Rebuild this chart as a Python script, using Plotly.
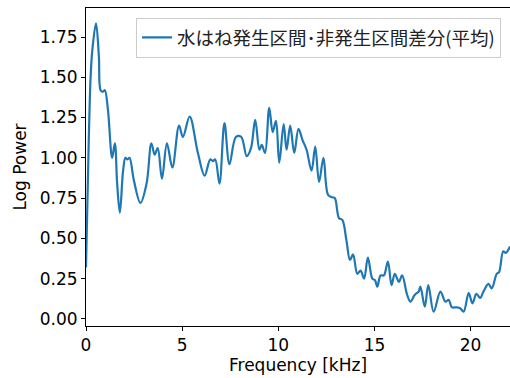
import plotly.graph_objects as go

freq_khz = [0, 0.14, 0.24, 0.33, 0.52, 0.67, 0.76, 0.88, 0.98, 1.14, 1.36, 1.5, 1.62, 1.76,
            1.93, 2.05, 2.15, 2.26, 2.49, 2.83, 3.15, 3.4, 3.57, 3.73, 3.95, 4.21, 4.49,
            4.84, 5.04, 5.39, 5.82, 6.17, 6.46, 6.6, 6.72, 6.94, 7.2, 7.46, 7.8, 8.07,
            8.36, 8.58, 8.8, 9.02, 9.14, 9.31, 9.53, 9.71, 9.88, 10.05, 10.28, 10.43,
            10.62, 10.83, 11.05, 11.26, 11.47, 11.73, 11.92, 12.12, 12.35, 12.59, 12.81,
            12.94, 13.16, 13.33, 13.54, 13.73, 13.89, 14.11, 14.28, 14.46, 14.66, 14.89,
            15.03, 15.15, 15.32, 15.49, 15.7, 15.89, 16.06, 16.27, 16.44, 16.7, 16.87,
            17.1, 17.3, 17.39, 17.62, 17.8, 18.08, 18.43, 18.69, 18.86, 19.03, 19.29,
            19.46, 19.64, 19.9, 20.1, 20.3, 20.5, 20.67, 20.93, 21.1, 21.36, 21.48,
            21.7, 21.83, 22.05]
log_power = [0.32, 1.09, 1.50, 1.67, 1.835, 1.63, 1.42, 1.41, 1.42, 1.30, 1.0, 1.09, 0.84, 0.66,
             0.92, 1.0, 0.99, 1.0, 0.86, 0.72, 0.84, 1.09, 1.02, 1.06, 0.87, 1.09, 0.94,
             1.20, 1.13, 1.256, 1.03, 0.89, 0.99, 0.98, 0.99, 0.84, 1.215, 0.96, 1.13, 1.13,
             1.01, 1.06, 1.235, 1.05, 1.08, 1.03, 1.31, 1.16, 1.23, 0.97, 1.21, 1.05,
             1.20, 1.03, 1.18, 1.11, 1.05, 0.92, 1.07, 0.85, 1.0, 0.77, 0.755,
             0.75, 0.625, 0.615, 0.49, 0.366, 0.40, 0.28, 0.30, 0.25, 0.38, 0.25,
             0.24, 0.20, 0.27, 0.27, 0.356, 0.21, 0.28, 0.23, 0.27, 0.15, 0.107,
             0.15, 0.17, 0.20, 0.076, 0.21, 0.045, 0.17, 0.107, 0.118, 0.072, 0.072,
             0.066, 0.045, 0.16, 0.097, 0.155, 0.13, 0.17, 0.217, 0.19, 0.28, 0.29,
             0.42, 0.41, 0.45]

x_ticks = [0, 5, 10, 15, 20]
y_ticks = [0.0, 0.25, 0.5, 0.75, 1.0, 1.25, 1.5, 1.75]
series_name = "水はね発生区間･非発生区間差分(平均)"

fig = go.Figure()
fig.add_trace(go.Scatter(
    x=freq_khz, y=log_power, mode="lines", name=series_name,
    line=dict(color="#1f77b4", width=2.2, shape="spline", smoothing=1.0),
    showlegend=True,
))

axis_common = dict(
    showline=True, linecolor="black", linewidth=1, mirror=True,
    ticks="outside", ticklen=4, tickcolor="black", tickwidth=1,
    showgrid=False, zeroline=False,
    tickfont=dict(family="DejaVu Sans", size=17, color="black"),
)

fig.update_layout(
    width=510, height=378,
    margin=dict(l=86, r=0, t=8, b=52),
    paper_bgcolor="white", plot_bgcolor="white",
    xaxis=dict(range=[0, 22.05], tickvals=x_ticks,
               title=dict(text="Frequency [kHz]", standoff=3,
                          font=dict(family="DejaVu Sans", size=17, color="black")),
               **axis_common),
    yaxis=dict(range=[-0.044, 1.93], tickvals=y_ticks, tickformat=".2f",
               title=dict(text="Log Power", standoff=8,
                          font=dict(family="DejaVu Sans", size=17, color="black")),
               **axis_common),
    legend=dict(x=0.118, y=0.969, xanchor="left", yanchor="top",
                bordercolor="#cccccc", borderwidth=1, bgcolor="rgba(255,255,255,0.8)",
                font=dict(family="Noto Sans CJK JP", size=18.5, color="#222222")),
    showlegend=True,
)

fig.write_html("out.html", config={"displayModeBar": False},
               post_script="document.body.style.margin='0';document.body.style.overflow='hidden';")
